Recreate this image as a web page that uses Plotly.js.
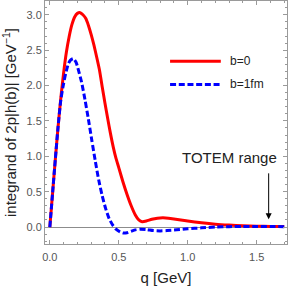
<!DOCTYPE html>
<html>
<head>
<meta charset="utf-8">
<script src="https://cdn.plot.ly/plotly-3.0.1.min.js"></script>
<style>html,body{margin:0;padding:0;background:#fff;}#chart{width:291px;height:289px;}</style>
</head>
<body>
<div id="chart"></div>
<script>
// b = 0 curve
const qRed = [0,0.02,0.04,0.06,0.08,0.10,0.12,0.14,0.16,0.18,0.20,0.22,0.24,0.26,0.28,0.30,0.32,0.34,0.36,0.38,0.40,0.42,0.44,0.46,0.48,0.50,0.53,0.56,0.59,0.62,0.645,0.67,0.70,0.74,0.78,0.82,0.86,0.90,0.95,1.00,1.10,1.20,1.30,1.40,1.50,1.60,1.70];
const vRed = [0,0.48,0.96,1.42,1.83,2.18,2.47,2.69,2.86,2.97,3.02,3.03,3.00,2.95,2.85,2.72,2.57,2.40,2.22,1.98,1.75,1.53,1.32,1.13,0.97,0.84,0.64,0.46,0.30,0.17,0.10,0.075,0.085,0.11,0.125,0.13,0.125,0.115,0.10,0.085,0.06,0.04,0.027,0.018,0.012,0.009,0.007];
// b = 1 fm curve
const qBlue = [0,0.02,0.04,0.06,0.08,0.10,0.115,0.135,0.15,0.17,0.19,0.21,0.23,0.255,0.28,0.305,0.33,0.355,0.38,0.405,0.43,0.455,0.48,0.51,0.535,0.56,0.59,0.62,0.655,0.70,0.75,0.80,0.85,0.92,1.00,1.10,1.20,1.30,1.40,1.50,1.60,1.70];
const vBlue = [0,0.48,0.96,1.42,1.80,2.03,2.17,2.31,2.36,2.38,2.33,2.20,2.05,1.80,1.52,1.22,0.93,0.66,0.44,0.26,0.12,0.03,-0.03,-0.07,-0.085,-0.08,-0.06,-0.04,-0.03,-0.035,-0.05,-0.055,-0.05,-0.04,-0.025,-0.012,0,0.005,0.008,0.008,0.007,0.005];
const seriesNames = ['b=0','b=1fm'];
const xTickVals = [0,0.5,1.0,1.5];
const xTickText = ['0.0','0.5','1.0','1.5'];
const yTickVals = [0,0.5,1.0,1.5,2.0,2.5,3.0];
const yTickText = ['0.0','0.5','1.0','1.5','2.0','2.5','3.0'];
const totemQ = 1.587;

const frame = '#9a9a9a';
const tickFont = {family:'Liberation Sans, Arial, sans-serif', size:11, color:'#555'};
const titleFont = {family:'Liberation Sans, Arial, sans-serif', size:15, color:'#222'};

const traces = [
  {x:qRed, y:vRed, type:'scatter', mode:'lines', name:seriesNames[0], line:{color:'#ff0000', width:3, shape:'spline', smoothing:0.6}},
  {x:qBlue, y:vBlue, type:'scatter', mode:'lines', name:seriesNames[1], line:{color:'#0000ff', width:3, dash:'6px,2.7px', shape:'spline', smoothing:0.6}}
];

const layout = {
  width:291, height:289,
  margin:{l:45, r:4, t:1, b:45},
  showlegend:false,
  paper_bgcolor:'#fff', plot_bgcolor:'#fff',
  xaxis:{
    range:[-0.035,1.72], tickvals:xTickVals, ticktext:xTickText,
    showgrid:false, zeroline:false, showline:true, mirror:'allticks',
    linecolor:frame, linewidth:1, ticks:'inside', ticklen:4, tickcolor:frame,
    minor:{ticks:'inside', ticklen:2, dtick:0.1, tick0:0, tickcolor:frame, showgrid:false},
    tickfont:tickFont, ticklabelstandoff:3,
    title:{text:'q [GeV]', font:titleFont, standoff:10}
  },
  yaxis:{
    range:[-0.24,3.195], tickvals:yTickVals, ticktext:yTickText,
    showgrid:false, zeroline:true, zerolinecolor:'#8c8c8c', zerolinewidth:1,
    showline:true, mirror:'allticks',
    linecolor:frame, linewidth:1, ticks:'inside', ticklen:4, tickcolor:frame,
    minor:{ticks:'inside', ticklen:2, dtick:0.1, tick0:0, tickcolor:frame, showgrid:false},
    tickfont:tickFont,
    title:{text:'integrand of 2p|h(b)| [GeV<sup>−1</sup>]', font:titleFont, standoff:6}
  },
  shapes:[
    {type:'line', xref:'x', yref:'y', x0:0.872, x1:1.24, y0:2.345, y1:2.345, line:{color:'#ff0000', width:3}},
    {type:'line', xref:'x', yref:'y', x0:0.872, x1:1.24, y0:2.015, y1:2.015, line:{color:'#0000ff', width:3, dash:'6px,2.7px'}}
  ],
  annotations:[
    {x:1.29, y:2.345, xref:'x', yref:'y', text:seriesNames[0], showarrow:false, xanchor:'left', yanchor:'middle', font:{family:'Liberation Sans, Arial, sans-serif', size:12, color:'#222'}},
    {x:1.29, y:2.015, xref:'x', yref:'y', text:seriesNames[1], showarrow:false, xanchor:'left', yanchor:'middle', font:{family:'Liberation Sans, Arial, sans-serif', size:12, color:'#222'}},
    {x:1.305, y:0.98, xref:'x', yref:'y', text:'TOTEM range', showarrow:false, xanchor:'center', yanchor:'middle', font:{family:'Liberation Sans, Arial, sans-serif', size:15, color:'#222'}},
    {x:totemQ, y:0.11, ax:totemQ, ay:0.78, xref:'x', yref:'y', axref:'x', ayref:'y', text:'', showarrow:true, arrowhead:2, arrowsize:1.2, arrowwidth:1, arrowcolor:'#000'}
  ]
};

Plotly.newPlot('chart', traces, layout, {displayModeBar:false, staticPlot:true});
</script>
</body>
</html>
